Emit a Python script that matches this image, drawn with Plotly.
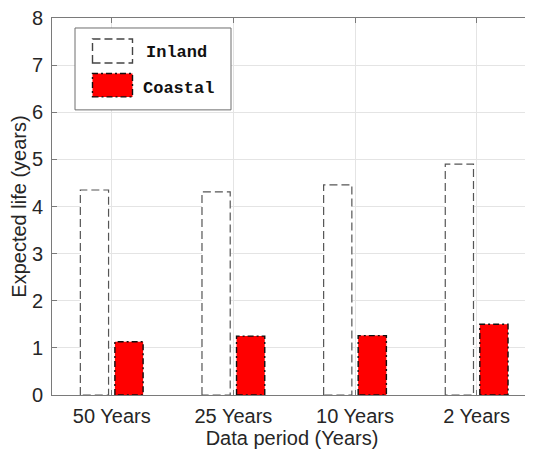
import plotly.graph_objects as go

# ---- data ----
categories = ["50 Years", "25 Years", "10 Years", "2 Years"]
inland = [4.35, 4.31, 4.46, 4.90]
coastal = [1.13, 1.25, 1.26, 1.50]
y_ticks = [0, 1, 2, 3, 4, 5, 6, 7, 8]

# ---- geometry / style ----
PAGE_OFF = 8                       # default body margin of the html page
W, H = 533 - PAGE_OFF, 449 - PAGE_OFF
ML, MR, MT, MB = 44, 1, 10, 53.5
BAR_W = 0.232
OFF_IN = -0.258
OFF_CO = 0.026
xpos = list(range(1, len(categories) + 1))

fig = go.Figure()

fig.add_trace(go.Bar(x=xpos, y=inland, width=BAR_W, offset=OFF_IN, name="Inland",
                     marker=dict(color="white", line=dict(width=0)), showlegend=False))
fig.add_trace(go.Bar(x=xpos, y=coastal, width=BAR_W, offset=OFF_CO, name="Coastal",
                     marker=dict(color="#ff0000", line=dict(width=0)), showlegend=False))


def outline(vals, off):
    xs, ys = [], []
    for xc, v in zip(xpos, vals):
        x0, x1 = xc + off, xc + off + BAR_W
        xs += [x0, x0, x1, x1, x0, None]
        ys += [0, v, v, 0, 0, None]
    return xs, ys


xi, yi = outline(inland, OFF_IN)
fig.add_trace(go.Scatter(x=xi, y=yi, mode="lines", showlegend=False, hoverinfo="skip",
                         line=dict(color="#555555", width=1.2, dash="8px,4px")))
xc_, yc_ = outline(coastal, OFF_CO)
fig.add_trace(go.Scatter(x=xc_, y=yc_, mode="lines", showlegend=False, hoverinfo="skip",
                         line=dict(color="#111111", width=1.4, dash="6px,3px,2px,3px")))

# ---- custom legend (page pixel -> paper helpers) ----
pw, ph = W - ML - MR, H - MT - MB


def px(x):
    return (x - PAGE_OFF - ML) / pw


def py(y):
    return (H - MB - (y - PAGE_OFF)) / ph


shapes = [
    dict(type="rect", xref="paper", yref="paper", x0=px(75), x1=px(231), y0=py(110), y1=py(28),
         line=dict(color="#6e6e6e", width=1), fillcolor="white", layer="above"),
    dict(type="rect", xref="paper", yref="paper", x0=px(92.5), x1=px(132.5), y0=py(63), y1=py(39),
         line=dict(color="#444444", width=1.4, dash="8px,4px"), fillcolor="white", layer="above"),
    dict(type="rect", xref="paper", yref="paper", x0=px(92.5), x1=px(132.5), y0=py(97), y1=py(73.5),
         line=dict(color="#111111", width=1.4, dash="6px,3px,2px,3px"), fillcolor="#ff0000", layer="above"),
]
legend_font = dict(family="Liberation Mono, Courier New, monospace", size=17, color="#111111", weight="bold")
annotations = [
    dict(xref="paper", yref="paper", x=px(144), y=py(53), xanchor="left", yanchor="middle",
         text="Inland", showarrow=False, font=legend_font),
    dict(xref="paper", yref="paper", x=px(141), y=py(89), xanchor="left", yanchor="middle",
         text="Coastal", showarrow=False, font=legend_font),
]

axis_col = "#7a7a7a"
grid_col = "#e4e4e4"
font_fam = "Liberation Sans, Arial, sans-serif"

fig.update_layout(
    width=W, height=H,
    margin=dict(l=ML, r=MR, t=MT, b=MB, pad=0, autoexpand=False),
    paper_bgcolor="white", plot_bgcolor="white",
    barmode="overlay",
    showlegend=False,
    shapes=shapes,
    annotations=annotations,
    font=dict(family=font_fam, color="#262626"),
)

fig.update_xaxes(
    range=[0.509, 4.455], tickvals=xpos, ticktext=categories,
    showgrid=True, gridcolor=grid_col, gridwidth=1,
    showline=True, linecolor=axis_col, linewidth=1, mirror="ticks",
    ticks="inside", ticklen=5, tickcolor=axis_col,
    tickfont=dict(size=20, family=font_fam, color="#262626"),
    ticklabelstandoff=3, ticklabeloverflow="allow",
    title=dict(text="Data period (Years)", font=dict(size=20, family=font_fam, color="#262626"), standoff=2),
    zeroline=False, fixedrange=True, automargin=True,
)
fig.update_yaxes(
    range=[0, 8], tickvals=y_ticks,
    showgrid=True, gridcolor=grid_col, gridwidth=1,
    showline=True, linecolor=axis_col, linewidth=1, mirror="ticks",
    ticks="inside", ticklen=5, tickcolor=axis_col,
    tickfont=dict(size=20, family=font_fam, color="#262626"),
    ticklabelstandoff=4, ticklabeloverflow="allow",
    title=dict(text="Expected life (years)", font=dict(size=20, family=font_fam, color="#262626"), standoff=4),
    zeroline=False, fixedrange=True, automargin=True,
)

fig.write_html("out.html")
